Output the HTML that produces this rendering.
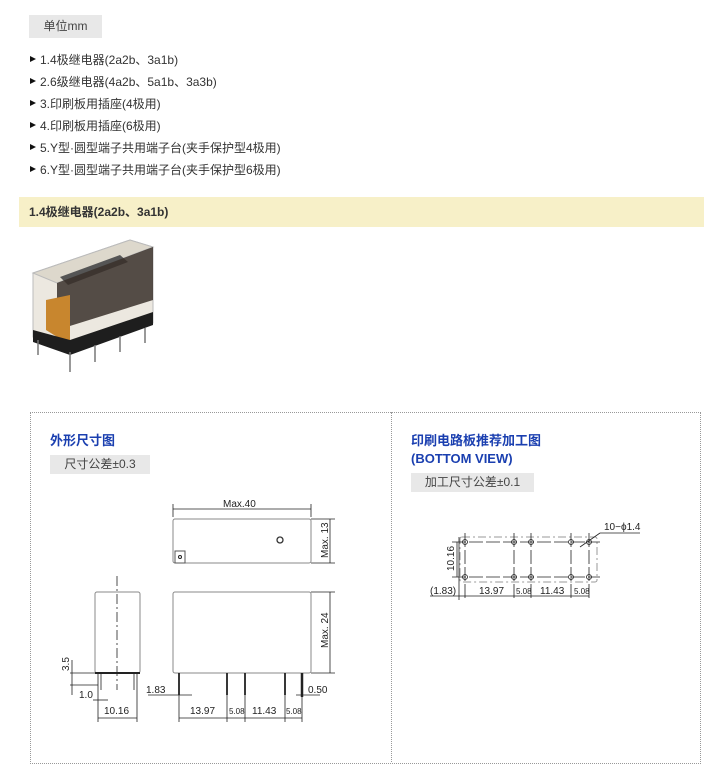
<!DOCTYPE html>
<html><head><meta charset="utf-8"><style>
body{margin:0;width:704px;height:756px;background:#fff;position:relative;overflow:hidden;font-family:"Liberation Sans","Noto Sans CJK SC",sans-serif;color:#333}
.a{position:absolute}
.tag{position:absolute;background:#e8e8e8;font-size:12px;color:#444;line-height:23px;text-align:center}
.li{position:absolute;left:30px;font-size:12px;color:#333;white-space:nowrap}
.li:before{content:"";display:inline-block;width:0;height:0;border-left:6px solid #111;border-top:3px solid transparent;border-bottom:3px solid transparent;margin-right:4px;vertical-align:2px}
.t{position:absolute;color:#1a3fb0;font-weight:bold;font-size:13px;line-height:18px}
</style></head><body>
<div class="tag" style="left:29px;top:15px;width:73px;height:23px">单位mm</div>
<div class="li" style="top:51px">1.4极继电器(2a2b、3a1b)</div>
<div class="li" style="top:73px">2.6级继电器(4a2b、5a1b、3a3b)</div>
<div class="li" style="top:95px">3.印刷板用插座(4极用)</div>
<div class="li" style="top:117px">4.印刷板用插座(6极用)</div>
<div class="li" style="top:139px">5.Y型·圆型端子共用端子台(夹手保护型4极用)</div>
<div class="li" style="top:161px">6.Y型·圆型端子共用端子台(夹手保护型6极用)</div>
<div class="a" style="left:19px;top:197px;width:685px;height:30px;background:#f7f0c8;font-size:12px;font-weight:bold;line-height:30px;text-indent:10px">1.4极继电器(2a2b、3a1b)</div>
<div class="a" style="left:30px;top:412px;width:669px;height:350px;border:1px dotted #999"></div>
<div class="a" style="left:391px;top:412px;width:0;height:350px;border-left:1px dotted #999"></div>
<div class="t" style="left:50px;top:432px">外形尺寸图</div>
<div class="tag" style="left:50px;top:455px;width:100px;height:19px;line-height:19px">尺寸公差±0.3</div>
<div class="t" style="left:411px;top:432px">印刷电路板推荐加工图<br>(BOTTOM VIEW)</div>
<div class="tag" style="left:411px;top:473px;width:123px;height:19px;line-height:19px">加工尺寸公差±0.1</div>
<svg class="a" style="left:0;top:0" width="704" height="756" font-family="Liberation Sans,sans-serif" font-size="10" fill="#222">
<!-- relay photo -->
<polygon points="33,273 130,240 153,247 153,323 70,350 33,337" fill="#ece8e0" stroke="#bbb"/>
<polygon points="33,273 130,240 153,247 57,283" fill="#ddd8cc" stroke="#bbb"/>
<polygon points="60,277 120,255 128,262 68,285" fill="#555"/>
<polygon points="57,283 153,247 153,300 57,330" fill="#3a302a" opacity=".85"/>
<polygon points="46,300 70,295 70,345 46,330" fill="#c8862e"/>
<polygon points="33,330 70,340 153,312 153,325 70,355 33,342" fill="#1e1e1e"/>
<g stroke="#777" stroke-width="1.5"><line x1="38" y1="340" x2="38" y2="355"/><line x1="70" y1="352" x2="70" y2="372"/><line x1="95" y1="345" x2="95" y2="362"/><line x1="120" y1="336" x2="120" y2="352"/><line x1="145" y1="328" x2="145" y2="343"/></g>
<g fill="none" stroke="#888" stroke-width="1"><rect x="173" y="519" width="138" height="44" rx="2"/><rect x="173" y="592" width="138" height="81" rx="2"/><rect x="95" y="592" width="45" height="81" rx="2"/></g>
<rect x="175" y="551" width="10" height="12" fill="none" stroke="#555"/><circle cx="180" cy="557" r="1.5" fill="none" stroke="#222"/>
<circle cx="280" cy="540" r="3" fill="none" stroke="#333" stroke-width="1.3"/>
<g stroke="#222" stroke-width="0.8" fill="none">
<line x1="173" y1="504" x2="173" y2="517"/><line x1="311" y1="504" x2="311" y2="517"/><line x1="173" y1="509" x2="311" y2="509"/>
<line x1="311" y1="519" x2="335" y2="519"/><line x1="311" y1="563" x2="335" y2="563"/><line x1="330" y1="519" x2="330" y2="563"/>
<line x1="311" y1="592" x2="335" y2="592"/><line x1="311" y1="673" x2="335" y2="673"/><line x1="330" y1="592" x2="330" y2="673"/>
<line x1="117" y1="576" x2="117" y2="690" stroke-dasharray="10,3,2,3"/>
<line x1="95" y1="673" x2="140" y2="673" stroke-width="2"/>
<line x1="98" y1="673" x2="98" y2="690"/><line x1="101" y1="673" x2="101" y2="690"/><line x1="134" y1="673" x2="134" y2="690"/><line x1="137" y1="673" x2="137" y2="690"/>
<line x1="70" y1="673" x2="95" y2="673"/><line x1="70" y1="685" x2="98" y2="685"/><line x1="72" y1="660" x2="72" y2="695"/>
<line x1="98" y1="690" x2="98" y2="722"/><line x1="137" y1="690" x2="137" y2="722"/><line x1="98" y1="718" x2="137" y2="718"/>
<line x1="93" y1="700" x2="108" y2="700"/>
<line x1="148" y1="695" x2="192" y2="695"/>
<line x1="179" y1="680" x2="179" y2="722"/><line x1="227" y1="680" x2="227" y2="722"/><line x1="245" y1="680" x2="245" y2="722"/><line x1="285" y1="680" x2="285" y2="722"/><line x1="302" y1="680" x2="302" y2="722"/>
<line x1="179" y1="718" x2="302" y2="718"/><line x1="296" y1="695" x2="320" y2="695"/>
</g>
<g stroke="#222" stroke-width="1.8"><line x1="179" y1="673" x2="179" y2="695"/><line x1="227" y1="673" x2="227" y2="695"/><line x1="245" y1="673" x2="245" y2="695"/><line x1="285" y1="673" x2="285" y2="695"/><line x1="302" y1="673" x2="302" y2="697" stroke-width="2.5"/></g>
<text x="223" y="507">Max.40</text>
<text transform="translate(328,558) rotate(-90)">Max. 13</text>
<text transform="translate(328,648) rotate(-90)">Max. 24</text>
<text transform="translate(69,671) rotate(-90)">3.5</text>
<text x="79" y="698">1.0</text>
<text x="104" y="714">10.16</text>
<text x="146" y="693">1.83</text>
<text x="308" y="693">0.50</text>
<text x="190" y="714">13.97</text><text x="229" y="714" font-size="8">5.08</text><text x="252" y="714">11.43</text><text x="286" y="714" font-size="8">5.08</text>
<!-- PCB -->
<rect x="460" y="537" width="137" height="45" rx="2" fill="none" stroke="#999" stroke-dasharray="8,3,2,3"/>
<g stroke="#222" stroke-width="0.8" fill="none">
<line x1="452" y1="542" x2="600" y2="542" stroke-dasharray="14,3"/><line x1="452" y1="577" x2="600" y2="577" stroke-dasharray="14,3"/>
<line x1="465" y1="533" x2="465" y2="600" stroke-dasharray="14,3"/><line x1="514" y1="533" x2="514" y2="600" stroke-dasharray="14,3"/><line x1="531" y1="533" x2="531" y2="600" stroke-dasharray="14,3"/><line x1="571" y1="533" x2="571" y2="600" stroke-dasharray="14,3"/><line x1="589" y1="533" x2="589" y2="600" stroke-dasharray="14,3"/>
<line x1="459" y1="537" x2="459" y2="600"/><line x1="457" y1="542" x2="457" y2="577"/>
<line x1="430" y1="596" x2="589" y2="596"/>
<line x1="580" y1="547" x2="600" y2="533"/><line x1="600" y1="533" x2="640" y2="533"/>
<circle cx="465" cy="542" r="2.5"/><circle cx="514" cy="542" r="2.5"/><circle cx="531" cy="542" r="2.5"/><circle cx="571" cy="542" r="2.5"/><circle cx="589" cy="542" r="2.5"/>
<circle cx="465" cy="577" r="2.5"/><circle cx="514" cy="577" r="2.5"/><circle cx="531" cy="577" r="2.5"/><circle cx="571" cy="577" r="2.5"/><circle cx="589" cy="577" r="2.5"/>
</g>
<text x="604" y="530">10−ϕ1.4</text>
<text transform="translate(454,571) rotate(-90)">10.16</text>
<text x="430" y="594">(1.83)</text><text x="479" y="594">13.97</text><text x="516" y="594" font-size="8">5.08</text><text x="540" y="594">11.43</text><text x="574" y="594" font-size="8">5.08</text>
</svg>
</body></html>
